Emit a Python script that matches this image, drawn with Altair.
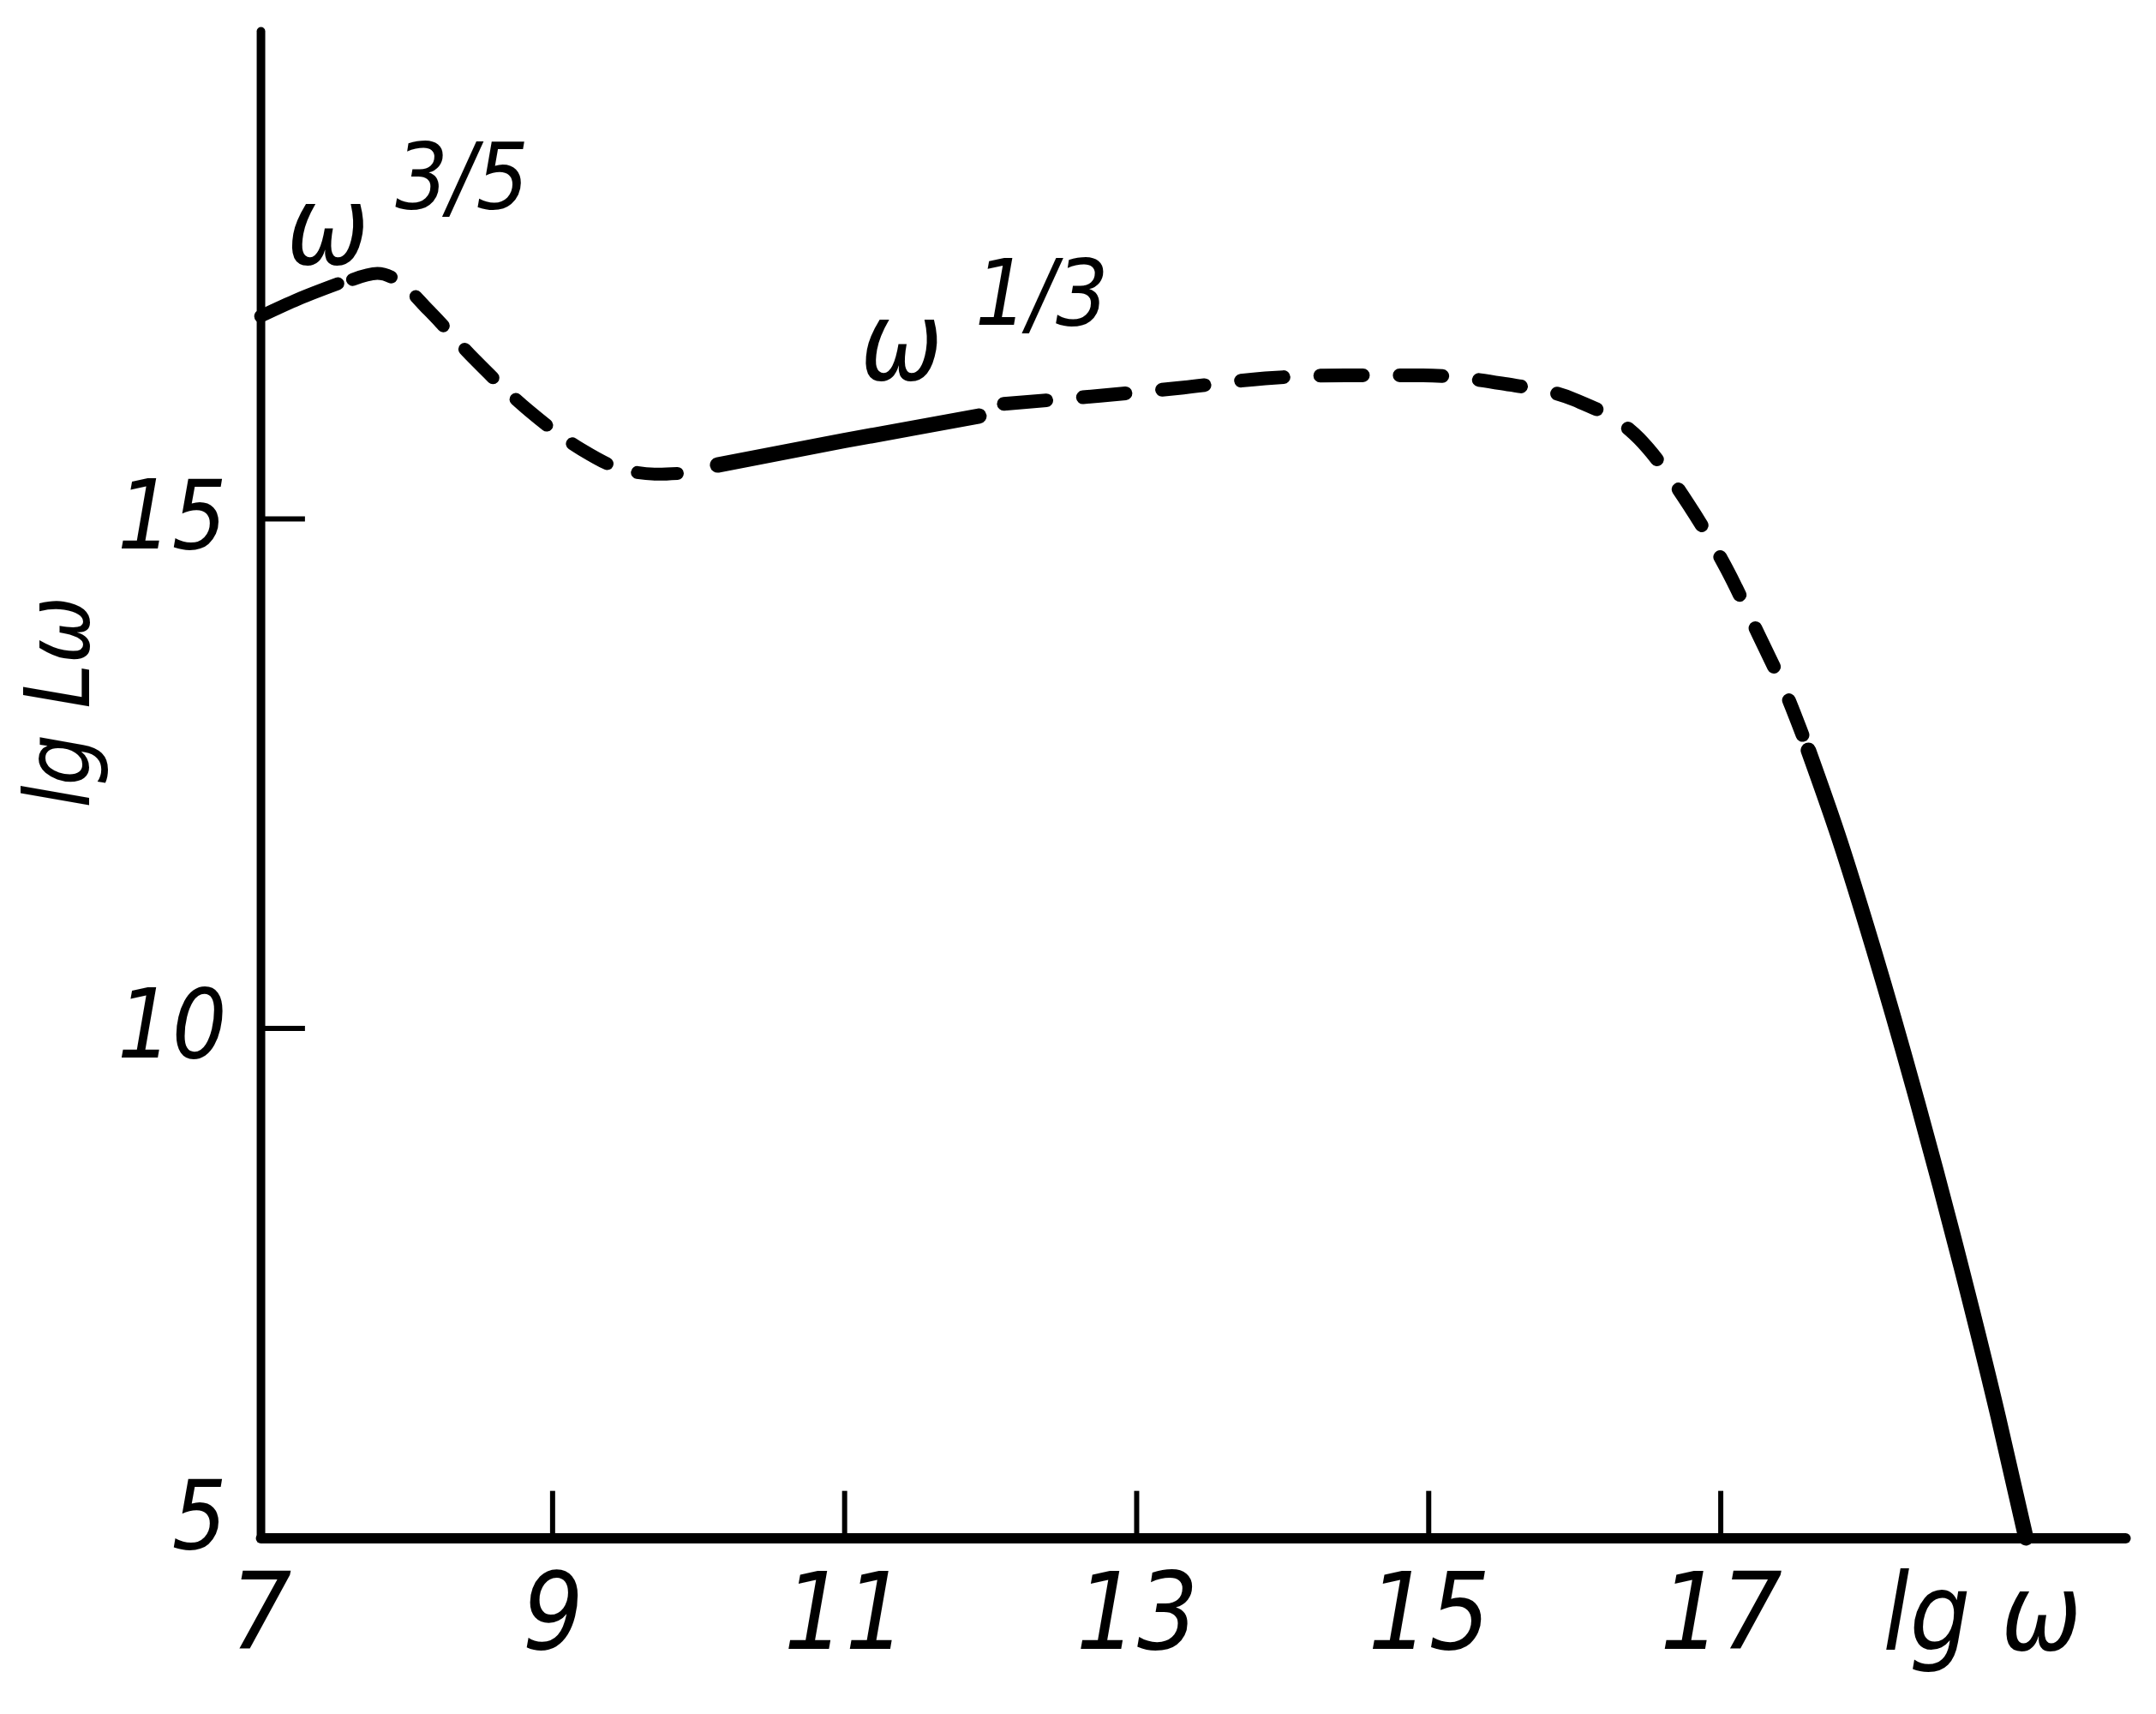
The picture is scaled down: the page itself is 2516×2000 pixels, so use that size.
import altair as alt
import pandas as pd

# ---- curve pieces (x = lg ω, y = lg Lω) ----
# solid ω^3/5 piece
seg_a_x = [7.0, 7.26, 7.53]
seg_a_y = [16.99, 17.16, 17.31]
# dashed hump and dip
seg_b_x = [7.63, 7.80, 7.95, 8.15, 8.47, 8.84, 9.20, 9.45, 9.72, 9.89]
seg_b_y = [17.35, 17.41, 17.33, 17.05, 16.56, 16.06, 15.68, 15.50, 15.44, 15.45]
# solid ω^1/3 piece
seg_c_x = [10.13, 11.0, 11.92]
seg_c_y = [15.53, 15.77, 16.01]
# dashed plateau and turnover
seg_d_x = [12.09, 12.75, 13.32, 13.88, 14.43, 14.96, 15.50, 16.00, 16.44, 16.78, 17.04, 17.26, 17.47, 17.56]
seg_d_y = [16.13, 16.21, 16.29, 16.38, 16.41, 16.41, 16.33, 16.17, 15.79, 15.14, 14.51, 13.86, 13.21, 12.88]
# solid steep fall
seg_e_x = [17.60, 17.80, 18.05, 18.35, 18.65, 18.90, 19.09]
seg_e_y = [12.73, 11.91, 10.76, 9.26, 7.64, 6.19, 5.00]

# tick values
x_ticks = [9, 11, 13, 15, 17]
x_labels = [7, 9, 11, 13, 15, 17]
y_ticks = [10, 15]
y_labels = [5, 10, 15]

# annotations
omega_x = [7.46, 11.39]
omega_y = [17.82, 16.69]
exp_text = ["3/5", "1/3"]
exp_x = [8.38, 12.35]
exp_y = [18.32, 17.17]

W, H = 2183, 1764
FONT = "Liberation Sans Narrow, DejaVu Sans Condensed, Liberation Sans, sans-serif"

xscale = alt.Scale(domain=[7, 19.77], nice=False, zero=False)
yscale = alt.Scale(domain=[5, 19.79], nice=False, zero=False)

xaxis = alt.Axis(
    values=x_labels, ticks=False, grid=False,
    domainWidth=12, domainColor="black", domainCap="round",
    labelFont=FONT, labelFontSize=125, labelFontStyle="italic", labelColor="black",
    labelPadding=30, labelBaseline="top", labelFlush=False, labelOverlap=False,
    title="lg ω", titleFont=FONT, titleFontSize=125, titleFontStyle="italic",
    titleFontWeight="normal", titleColor="black",
    titleX=2015, titleY=130, titleAlign="center", titleBaseline="alphabetic",
)
yaxis = alt.Axis(
    values=y_labels, ticks=False, grid=False,
    domainWidth=10, domainColor="black", domainCap="round",
    labelFont=FONT, labelFontSize=112, labelFontStyle="italic", labelColor="black",
    labelPadding=40, labelAlign="right", labelBaseline="middle",
    labelFlush=False, labelOverlap=False,
    labelOffset={"condition": {"test": "datum.value == 5", "value": -22}, "value": 0},
    title="lg Lω", titleFont=FONT, titleFontSize=105, titleFontStyle="italic",
    titleFontWeight="normal", titleColor="black",
    titleAngle=270, titleX=-201, titleY=785, titleAlign="center", titleBaseline="alphabetic",
)


def X(field="x"):
    return alt.X(field, type="quantitative", scale=xscale, axis=xaxis)


def Y(field="y"):
    return alt.Y(field, type="quantitative", scale=yscale, axis=yaxis)


def segment(xs, ys, width, dash=None, offset=0):
    df = pd.DataFrame({"x": xs, "y": ys, "o": list(range(len(xs)))})
    kw = dict(color="black", strokeWidth=width, strokeCap="round",
              strokeJoin="round", interpolate="monotone")
    if dash is not None:
        kw["strokeDash"] = dash
        kw["strokeDashOffset"] = offset
    return alt.Chart(df).mark_line(**kw).encode(x=X(), y=Y(), order="o:Q")


layers = [
    segment(seg_a_x, seg_a_y, 15),
    segment(seg_b_x, seg_b_y, 15, dash=[47, 37], offset=0),
    segment(seg_c_x, seg_c_y, 18),
    segment(seg_d_x, seg_d_y, 16, dash=[50, 43], offset=0),
    segment(seg_e_x, seg_e_y, 18),
]

xt = alt.Chart(pd.DataFrame({"x": x_ticks})).mark_rule(color="black", strokeWidth=6).encode(
    x=X(), y=alt.value(H), y2=alt.value(H - 55)
)
yt = alt.Chart(pd.DataFrame({"y": y_ticks})).mark_rule(color="black", strokeWidth=6).encode(
    y=Y(), x=alt.value(0), x2=alt.value(52)
)

om = alt.Chart(pd.DataFrame({"x": omega_x, "y": omega_y, "t": ["ω", "ω"]})).mark_text(
    font=FONT, fontSize=128, fontStyle="italic", color="black", align="center", baseline="middle"
).encode(x=X(), y=Y(), text="t:N")

ex = alt.Chart(pd.DataFrame({"x": exp_x, "y": exp_y, "t": exp_text})).mark_text(
    font=FONT, fontSize=108, fontStyle="italic", color="black", align="center", baseline="middle"
).encode(x=X(), y=Y(), text="t:N")

chart = alt.layer(xt, yt, *layers, om, ex).properties(
    width=W, height=H,
    padding={"left": 297, "top": 25, "right": 28, "bottom": 203},
    autosize=alt.AutoSizeParams(type="none"),
    background="white",
).configure_view(strokeWidth=0)

chart.save("out.html", embed_options={"renderer": "svg", "actions": False})
